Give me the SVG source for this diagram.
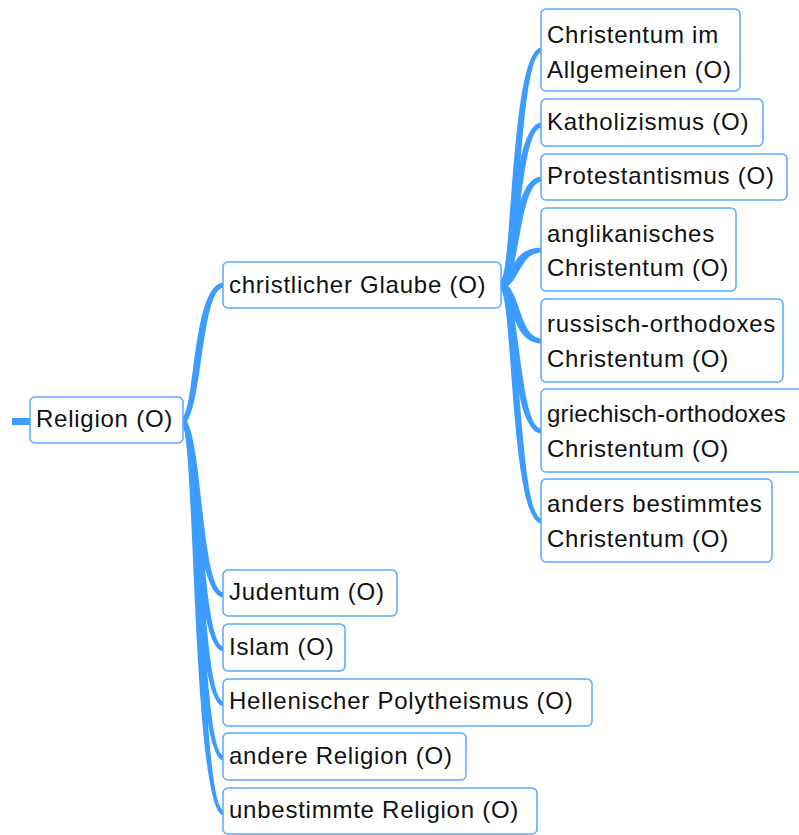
<svg xmlns="http://www.w3.org/2000/svg" width="799" height="835" viewBox="0 0 799 835">
  <style>
    .box { fill: #ffffff; stroke: #5aa9ff; stroke-width: 1.5; }
    .lbl { font-family: "Liberation Sans", Arial, sans-serif; font-size: 24px; letter-spacing: 0.75px; fill: #111111; }
    .tight { letter-spacing: 0.2px; }
    .edge { fill: #3c9cff; stroke: none; }
  </style>
  <rect width="799" height="835" fill="#ffffff"/>

  <!-- tapered branch connectors -->
  <g id="connectors">
    <line x1="12" y1="421.5" x2="31" y2="421.5" stroke="#3c9cff" stroke-width="7"/>
    <!-- Religion -> children -->
    <path class="edge" d="M182,417 C195,414 192,282.5 224,282.5 L224,287.5 C200,287.5 203,422 182,425 Z"/>
    <path class="edge" d="M182,425 C195,428 192,597.5 224,597.5 L224,592.5 C200,592.5 203,420 182,417 Z"/>
    <path class="edge" d="M182,425 C195,428 192,651.5 224,651.5 L224,646.5 C200,646.5 203,420 182,417 Z"/>
    <path class="edge" d="M182,425 C195,428 192,706.5 224,706.5 L224,701.5 C200,701.5 203,420 182,417 Z"/>
    <path class="edge" d="M182,425 C195,428 192,760.5 224,760.5 L224,755.5 C200,755.5 203,420 182,417 Z"/>
    <path class="edge" d="M182,425 C195,428 192,815.5 224,815.5 L224,810.5 C200,810.5 203,420 182,417 Z"/>
    <!-- christlicher Glaube -> children -->
    <path class="edge" d="M500,281 C513,278 510,47.5 542,47.5 L542,52.5 C518,52.5 521,286 500,289 Z"/>
    <path class="edge" d="M500,281 C513,278 510,122.5 542,122.5 L542,127.5 C518,127.5 521,286 500,289 Z"/>
    <path class="edge" d="M500,281 C513,278 510,176.5 542,176.5 L542,181.5 C518,181.5 521,286 500,289 Z"/>
    <path class="edge" d="M500,281 C513,278 510,247.5 542,247.5 L542,252.5 C518,252.5 521,286 500,289 Z"/>
    <path class="edge" d="M500,289 C513,292 510,343.5 542,343.5 L542,338.5 C518,338.5 521,284 500,281 Z"/>
    <path class="edge" d="M500,289 C513,292 510,433.5 542,433.5 L542,428.5 C518,428.5 521,284 500,281 Z"/>
    <path class="edge" d="M500,289 C513,292 510,523.5 542,523.5 L542,518.5 C518,518.5 521,284 500,281 Z"/>
  </g>

  <g id="religion">
    <rect class="box" x="30" y="397" width="153" height="46" rx="5"/>
    <text class="lbl" x="36" y="427">Religion (O)</text>
  </g>

  <g id="christlicher-glaube">
    <rect class="box" x="223" y="262" width="278" height="46" rx="5"/>
    <text class="lbl" x="229" y="293">christlicher Glaube (O)</text>
  </g>

  <g id="christentum-allgemein">
    <rect class="box" x="541" y="9" width="199" height="82" rx="5"/>
    <text class="lbl" x="547" y="43">Christentum im</text>
    <text class="lbl" x="547" y="78">Allgemeinen (O)</text>
  </g>

  <g id="katholizismus">
    <rect class="box" x="541" y="99" width="222" height="47" rx="5"/>
    <text class="lbl" x="547" y="130">Katholizismus (O)</text>
  </g>

  <g id="protestantismus">
    <rect class="box" x="541" y="154" width="246" height="46" rx="5"/>
    <text class="lbl" x="547" y="184">Protestantismus (O)</text>
  </g>

  <g id="anglikanisch">
    <rect class="box" x="541" y="208" width="195" height="83" rx="5"/>
    <text class="lbl" x="547" y="242">anglikanisches</text>
    <text class="lbl" x="547" y="276">Christentum (O)</text>
  </g>

  <g id="russisch-orthodox">
    <rect class="box" x="541" y="299" width="242" height="83" rx="5"/>
    <text class="lbl" x="547" y="332">russisch-orthodoxes</text>
    <text class="lbl" x="547" y="367">Christentum (O)</text>
  </g>

  <g id="griechisch-orthodox">
    <rect class="box" x="541" y="389" width="265" height="83" rx="5"/>
    <text class="lbl tight" x="547" y="422">griechisch-orthodoxes</text>
    <text class="lbl" x="547" y="457">Christentum (O)</text>
  </g>

  <g id="anders-bestimmt">
    <rect class="box" x="541" y="479" width="231" height="83" rx="5"/>
    <text class="lbl" x="547" y="512">anders bestimmtes</text>
    <text class="lbl" x="547" y="547">Christentum (O)</text>
  </g>

  <g id="judentum">
    <rect class="box" x="223" y="570" width="174" height="46" rx="5"/>
    <text class="lbl" x="229" y="600">Judentum (O)</text>
  </g>

  <g id="islam">
    <rect class="box" x="223" y="624" width="122" height="47" rx="5"/>
    <text class="lbl" x="229" y="655">Islam (O)</text>
  </g>

  <g id="hellenismus">
    <rect class="box" x="223" y="679" width="369" height="47" rx="5"/>
    <text class="lbl" x="229" y="709">Hellenischer Polytheismus (O)</text>
  </g>

  <g id="andere-religion">
    <rect class="box" x="223" y="733" width="243" height="47" rx="5"/>
    <text class="lbl" x="229" y="764">andere Religion (O)</text>
  </g>

  <g id="unbestimmte-religion">
    <rect class="box" x="223" y="788" width="314" height="46" rx="5"/>
    <text class="lbl" x="229" y="818">unbestimmte Religion (O)</text>
  </g>
</svg>
